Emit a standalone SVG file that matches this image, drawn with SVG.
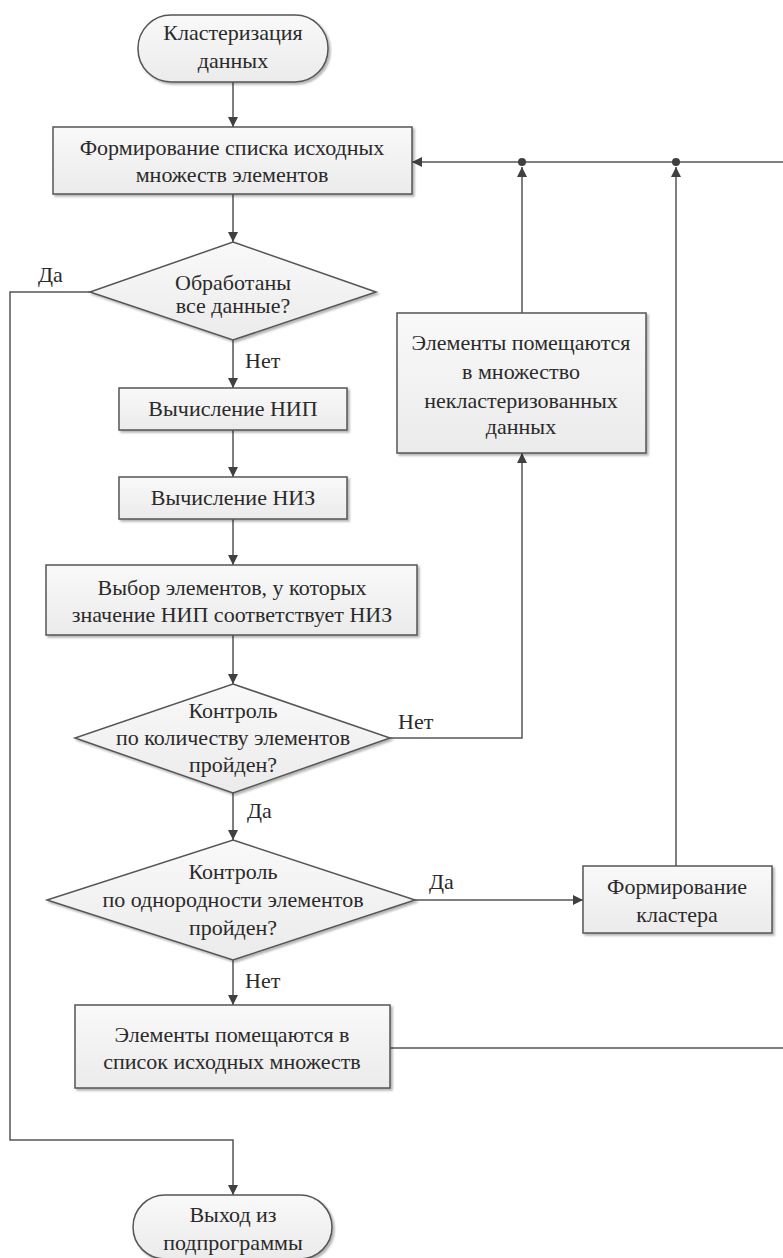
<svg xmlns="http://www.w3.org/2000/svg" width="783" height="1258" viewBox="0 0 783 1258">
<defs>
<linearGradient id="g" x1="0" y1="0" x2="0" y2="1">
<stop offset="0" stop-color="#f9f9f9"/>
<stop offset="1" stop-color="#ebebeb"/>
</linearGradient>
<filter id="sh" x="-5%" y="-5%" width="115%" height="125%">
<feGaussianBlur in="SourceAlpha" stdDeviation="1.2"/>
<feOffset dx="2" dy="2" result="b"/>
<feComponentTransfer><feFuncA type="linear" slope="0.3"/></feComponentTransfer>
<feMerge><feMergeNode/><feMergeNode in="SourceGraphic"/></feMerge>
</filter>
<marker id="ar" viewBox="0 0 10 10" refX="10" refY="5" markerWidth="10" markerHeight="10" markerUnits="userSpaceOnUse" orient="auto">
<path d="M0,0 L10,5 L0,10 Z" fill="#404040"/>
</marker>
</defs>
<style>
.s{fill:url(#g);stroke:#555;stroke-width:1.5;filter:url(#sh)}
text{font-size:22px;fill:#2a2a2a}
.t{text-anchor:middle}
.c{fill:none;stroke:#555;stroke-width:1.5}
.a{marker-end:url(#ar)}
</style>
<rect width="783" height="1258" fill="#fff"/>
<g font-family="Liberation Serif, Times New Roman, Tinos, Noto Serif, DejaVu Serif, FreeSerif, serif">
<g id="connectors">
<path class="c a" d="M233,82 V127"/>
<path class="c a" d="M233,194 V242"/>
<path class="c a" d="M233,340 V388"/>
<path class="c a" d="M233,430 V477"/>
<path class="c a" d="M233,519 V565"/>
<path class="c a" d="M233,635 V684"/>
<path class="c a" d="M233,793 V840"/>
<path class="c a" d="M233,960 V1005"/>
<path class="c a" d="M90,292 H10 V1140 H233 V1195"/>
<path class="c a" d="M390,738 H522 V453"/>
<path class="c a" d="M415,900 H583"/>
<path class="c a" d="M522,313 V167"/>
<path class="c a" d="M676,866 V167"/>
<path class="c a" d="M390,1048 H792 V162 H412"/>
<circle cx="522" cy="162" r="4" fill="#404040"/>
<circle cx="676" cy="162" r="4" fill="#404040"/>
<text x="38" y="282">Да</text>
<text x="245" y="368">Нет</text>
<text x="398" y="729">Нет</text>
<text x="247" y="818">Да</text>
<text x="429" y="889">Да</text>
<text x="245" y="988">Нет</text>
</g>
<g id="start">
<rect class="s" x="138" y="15" width="190" height="67" rx="33" ry="33"/>
<text class="t" x="233" y="40">Кластеризация</text>
<text class="t" x="233" y="68">данных</text>
</g>
<g id="form_list">
<rect class="s" x="53" y="127" width="359" height="67"/>
<text class="t" x="232" y="155">Формирование списка исходных</text>
<text class="t" x="232" y="182">множеств элементов</text>
</g>
<g id="dec_all">
<polygon class="s" points="233,242 376,292 233,340 90,292"/>
<text class="t" x="233" y="290">Обработаны</text>
<text class="t" x="233" y="313">все данные?</text>
</g>
<g id="calc_nip">
<rect class="s" x="119" y="388" width="228" height="42"/>
<text class="t" x="233" y="416">Вычисление НИП</text>
</g>
<g id="calc_niz">
<rect class="s" x="119" y="477" width="228" height="42"/>
<text class="t" x="233" y="505">Вычисление НИЗ</text>
</g>
<g id="select">
<rect class="s" x="46" y="565" width="371" height="70"/>
<text class="t" x="232" y="595">Выбор элементов, у которых</text>
<text class="t" x="232" y="622">значение НИП соответствует НИЗ</text>
</g>
<g id="dec_count">
<polygon class="s" points="233,684 390,738 233,793 75,738"/>
<text class="t" x="233" y="718">Контроль</text>
<text class="t" x="233" y="745">по количеству элементов</text>
<text class="t" x="233" y="772">пройден?</text>
</g>
<g id="dec_homog">
<polygon class="s" points="233,840 415,900 233,960 47,900"/>
<text class="t" x="233" y="879">Контроль</text>
<text class="t" x="233" y="907">по однородности элементов</text>
<text class="t" x="233" y="935">пройден?</text>
</g>
<g id="back_to_list">
<rect class="s" x="75" y="1005" width="315" height="83"/>
<text class="t" x="232" y="1042">Элементы помещаются в</text>
<text class="t" x="232" y="1069">список исходных множеств</text>
</g>
<g id="unclustered">
<rect class="s" x="397" y="313" width="249" height="140"/>
<text class="t" x="521" y="350">Элементы помещаются</text>
<text class="t" x="521" y="379">в множество</text>
<text class="t" x="521" y="408">некластеризованных</text>
<text class="t" x="521" y="434">данных</text>
</g>
<g id="form_cluster">
<rect class="s" x="583" y="866" width="189" height="67"/>
<text class="t" x="677" y="894">Формирование</text>
<text class="t" x="677" y="922">кластера</text>
</g>
<g id="exit">
<rect class="s" x="133" y="1195" width="199" height="64" rx="32" ry="32"/>
<text class="t" x="233" y="1222">Выход из</text>
<text class="t" x="233" y="1250">подпрограммы</text>
</g>
</g>
</svg>
